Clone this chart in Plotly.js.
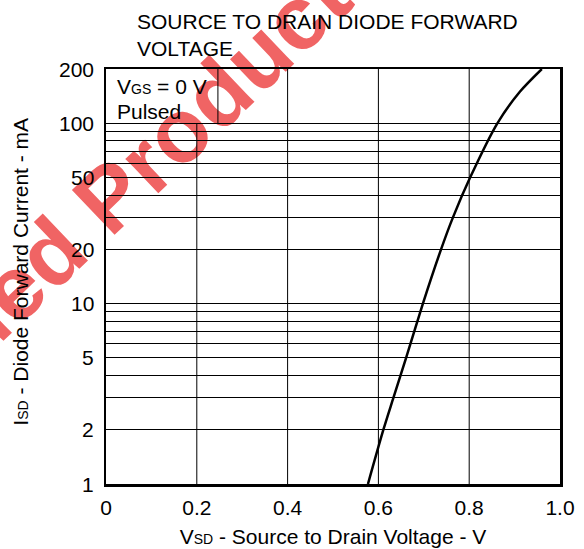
<!DOCTYPE html>
<html>
<head>
<meta charset="utf-8">
<script src="https://cdn.plot.ly/plotly-3.0.1.min.js"></script>
<style>html,body{margin:0;padding:0;background:#fff;}#chart{width:584px;height:549px;}</style>
</head>
<body>
<div id="chart"></div>
<script>
// Data
const vsd = [0.577, 0.611, 0.633, 0.661, 0.698, 0.738, 0.764, 0.802, 0.862, 0.912, 0.960];
const isd = [1, 2, 3, 5, 10, 20, 30, 50, 100, 150, 200];

// Axis ticks
const xTickVals = [0, 0.2, 0.4, 0.6, 0.8, 1.0];
const xTickText = ['0', '0.2', '0.4', '0.6', '0.8', '1.0'];
const yTickVals = [1, 2, 5, 10, 20, 50, 100, 200];
const yTickText = ['1', '2', '5', '10', '20', '50', '100', '200'];
const yMinorVals = [3, 4, 6, 7, 8, 9, 30, 40, 60, 70, 80, 90];
const xGridVals = [0.2, 0.4, 0.6, 0.8];

const FONT = 'Liberation Sans, Arial, Helvetica, sans-serif';
const FS = 21;

const shapes = [];
// watermark (drawn beneath everything)
shapes.push({
  type: 'line', xref: 'paper', yref: 'paper', layer: 'below',
  x0: -0.3343, y0: 0.3651, x1: -0.1749, y1: 0.5313,
  line: {width: 0, color: 'rgba(0,0,0,0)'},
  label: {text: 'Discontinued Product', textposition: 'middle', yanchor: 'middle',
          font: {family: FONT, size: 90, color: '#f06464', weight: 'bold'}}
});
// vertical grid lines (0.2 stops at the note box)
xGridVals.forEach(v => {
  shapes.push({type: 'line', xref: 'x', yref: 'y', layer: 'between',
    x0: v, x1: v, y0: 1, y1: v === 0.2 ? 100 : 200,
    line: {color: '#000', width: 1}});
});
// note box right edge
shapes.push({type: 'line', xref: 'x', yref: 'y', layer: 'between',
  x0: 0.2465, x1: 0.2465, y0: 100, y1: 200, line: {color: '#000', width: 1}});

const trace = {
  x: vsd, y: isd, type: 'scatter', mode: 'lines',
  line: {color: '#000', width: 2.5, shape: 'spline', smoothing: 0.8},
  hoverinfo: 'skip'
};

const annotations = [
  {xref: 'paper', yref: 'paper', x: 29/454, y: 1 + 61/415, xanchor: 'left', yanchor: 'top',
   align: 'left', showarrow: false,
   text: 'SOURCE TO DRAIN DIODE FORWARD<br>VOLTAGE',
   font: {family: FONT, size: FS, color: '#000'}},
  {xref: 'paper', yref: 'paper', x: 9/454, y: 1 - 31/415, xanchor: 'left', yanchor: 'bottom',
   text: 'V<span style="font-size:14px">GS</span> = 0 V', showarrow: false,
   font: {family: FONT, size: FS, color: '#000'}},
  {xref: 'paper', yref: 'paper', x: 9/454, y: 1 - 56/415, xanchor: 'left', yanchor: 'bottom',
   text: 'Pulsed', showarrow: false,
   font: {family: FONT, size: FS, color: '#000'}},
  // y-axis title
  {xref: 'paper', yref: 'paper', x: (20.7 - 106)/454, y: 0.511, xanchor: 'center', yanchor: 'middle',
   textangle: -90, showarrow: false,
   text: 'I<span style="font-size:14px">SD</span> - Diode Forward Current - mA',
   font: {family: FONT, size: FS, color: '#000'}}
];
// y tick labels
yTickVals.forEach((v, i) => {
  annotations.push({xref: 'paper', yref: 'y', x: -10/454, y: Math.log10(v),
    xanchor: 'right', yanchor: 'middle', showarrow: false, text: yTickText[i],
    font: {family: FONT, size: FS, color: '#000'}});
});

const layout = {
  width: 584, height: 549,
  margin: {l: 106, r: 24, t: 69, b: 65},
  paper_bgcolor: '#fff', plot_bgcolor: 'rgba(0,0,0,0)',
  showlegend: false,
  font: {family: FONT, size: FS, color: '#000'},
  xaxis: {
    range: [0, 1], tickmode: 'array', tickvals: xTickVals, ticktext: xTickText,
    showgrid: false, zeroline: false,
    showline: true, mirror: true, linecolor: '#000', linewidth: 2.5,
    ticks: 'outside', ticklen: 3, tickcolor: 'rgba(0,0,0,0)',
    tickfont: {family: FONT, size: FS, color: '#000'},
    title: {text: 'V<span style="font-size:14px">SD</span> - Source to Drain Voltage - V',
            standoff: 12, font: {family: FONT, size: FS, color: '#000'}}
  },
  yaxis: {
    type: 'log', range: [0, Math.log10(200)],
    tickmode: 'array', tickvals: yTickVals, showticklabels: false,
    showgrid: true, gridcolor: '#000', gridwidth: 1,
    minor: {tickmode: 'array', tickvals: yMinorVals, showgrid: true, gridcolor: '#000', gridwidth: 1, ticks: ''},
    zeroline: false,
    showline: true, mirror: true, linecolor: '#000', linewidth: 2.5,
    ticks: ''
  },
  shapes: shapes,
  annotations: annotations
};

Plotly.newPlot('chart', [trace], layout, {displayModeBar: false, staticPlot: true});
</script>
</body>
</html>
